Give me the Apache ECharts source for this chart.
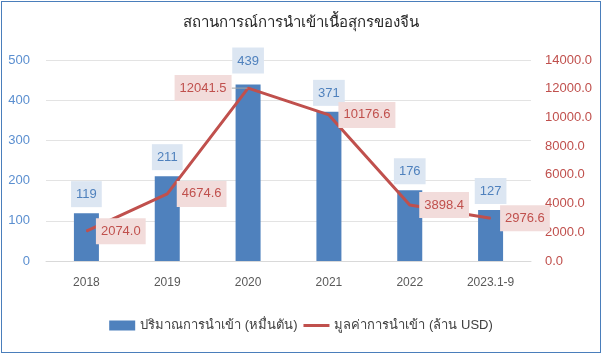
<!DOCTYPE html>
<html>
<head>
<meta charset="utf-8">
<script src="https://cdn.jsdelivr.net/npm/echarts@6/dist/echarts.min.js"></script>
<style>
  html, body { margin: 0; padding: 0; background: #fff; }
  .frame { position: absolute; left: 1px; top: 1px; width: 598px; height: 350px; border: 1px solid #4a7ebb; }
  #chart { position: absolute; left: 0; top: 0; width: 602px; height: 354px; }
</style>
</head>
<body>
<div class="frame"></div>
<div id="chart"></div>
<script>
// ข้อมูล
var years = ['2018', '2019', '2020', '2021', '2022', '2023.1-9'];
var volume = [119, 211, 439, 371, 176, 127];          // หมื่นตัน
var value = [2074.0, 4674.6, 12041.5, 10176.6, 3898.4, 2976.6]; // ล้าน USD
var leftTicks = [0, 500, 100];
var rightTicks = [0, 14000, 2000];

var font = '"Liberation Sans", "DejaVu Sans", sans-serif';
var chart = echarts.init(document.getElementById('chart'));

var barData = volume.map(function (v, i) {
  var d = { value: v };
  if (i === 2) d.label = { distance: 11 };
  return d;
});
var lineData = value.map(function (v, i) {
  var d = { value: v };
  if (i === 2) {
    // ป้ายของปี 2020 อยู่ทางซ้าย มีเส้นชี้
    d.label = { position: 'left', distance: 16, offset: [0, -4] };
    d.labelLine = { show: true, lineStyle: { color: '#a6a6a6', width: 1 } };
  }
  return d;
});

var option = {
  animation: false,
  textStyle: { fontFamily: font },
  title: {
    text: 'สถานการณ์การนำเข้าเนื้อสุกรของจีน',
    left: 'center',
    top: 10,
    textStyle: { fontSize: 15, fontWeight: 'normal', color: '#262626', fontFamily: font }
  },
  legend: {
    bottom: 17,
    left: 'center',
    itemWidth: 26,
    itemHeight: 10,
    itemGap: 6,
    textStyle: { fontSize: 13, color: '#404040', fontFamily: font },
    data: [
      { name: 'ปริมาณการนำเข้า (หมื่นตัน)', icon: 'rect' },
      { name: 'มูลค่าการนำเข้า (ล้าน USD)', icon: 'path://M0,4 L26,4 L26,7 L0,7 Z' }
    ]
  },
  grid: { left: 46, right: 71, top: 60, bottom: 93 },
  xAxis: {
    type: 'category',
    data: years,
    axisLine: { lineStyle: { color: '#d9d9d9' } },
    axisTick: { show: false },
    axisLabel: { color: '#595959', fontSize: 12, margin: 16 }
  },
  yAxis: [
    {
      type: 'value',
      min: leftTicks[0], max: leftTicks[1], interval: leftTicks[2],
      axisLine: { show: false },
      axisTick: { show: false },
      axisLabel: { color: '#5b8fd0', fontSize: 13, margin: 16 },
      splitLine: { lineStyle: { color: '#e3e3e3' } }
    },
    {
      type: 'value',
      min: rightTicks[0], max: rightTicks[1], interval: rightTicks[2],
      axisLine: { show: false },
      axisTick: { show: false },
      splitLine: { show: false },
      axisLabel: {
        color: '#c0504d', fontSize: 13, margin: 14,
        formatter: function (v) { return v.toFixed(1); }
      }
    }
  ],
  series: [
    {
      name: 'ปริมาณการนำเข้า (หมื่นตัน)',
      type: 'bar',
      barWidth: 25,
      data: barData,
      itemStyle: { color: '#4f81bd' },
      label: {
        show: true,
        position: 'top',
        distance: 6,
        color: '#4f81bd',
        fontSize: 13,
        backgroundColor: '#dce6f2',
        padding: [7, 5, 6, 5]
      }
    },
    {
      name: 'มูลค่าการนำเข้า (ล้าน USD)',
      type: 'line',
      yAxisIndex: 1,
      data: lineData,
      symbol: 'circle',
      symbolSize: 1,
      showSymbol: true,
      lineStyle: { color: '#c0504d', width: 3 },
      itemStyle: { color: '#c0504d' },
      z: 5,
      labelLayout: { hideOverlap: false, moveOverlap: false },
      label: {
        show: true,
        position: 'right',
        distance: 9,
        color: '#c0504d',
        fontSize: 13,
        backgroundColor: '#f2dcdb',
        padding: [7, 5, 6, 5],
        formatter: function (p) { return p.value.toFixed(1); }
      }
    }
  ]
};

chart.setOption(option);
</script>
</body>
</html>
